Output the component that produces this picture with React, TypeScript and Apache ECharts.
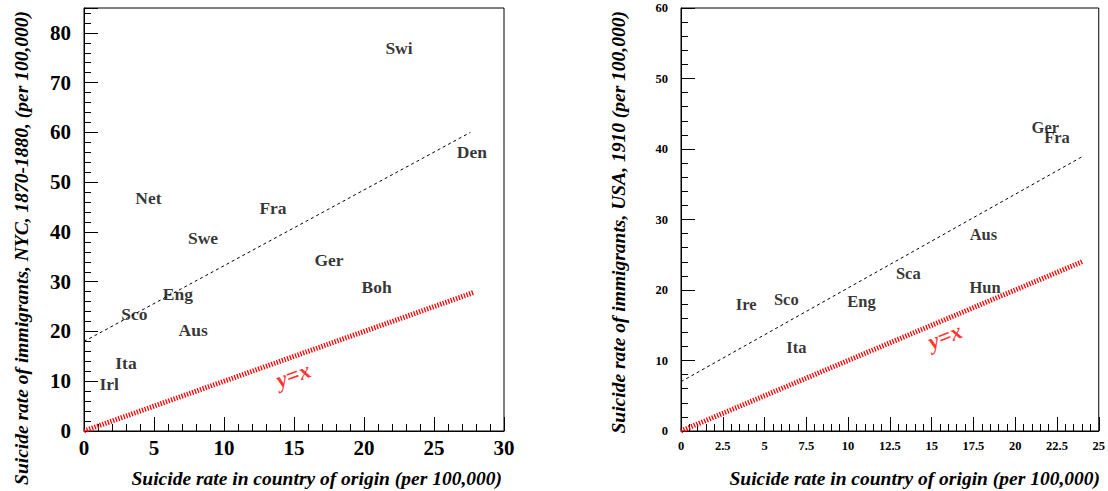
import React, { useEffect, useRef } from "react";
import * as echarts from "echarts";

// Left panel: NYC 1870-1880
const leftNames = ["Swi", "Den", "Net", "Fra", "Swe", "Ger", "Boh", "Eng", "Sco", "Aus", "Ita", "Irl"];
const leftX = [22.5, 27.7, 4.6, 13.5, 8.5, 17.5, 20.9, 6.7, 3.6, 7.8, 3.0, 1.8];
const leftY = [76.9, 56.1, 46.9, 44.9, 38.8, 34.3, 29.0, 27.5, 23.6, 20.3, 13.6, 9.4];
const leftFit = [[0, 18], [27.6, 60]];
const leftIdentity = [[0, 0], [27.8, 27.8]];
const leftIdentityLabel = [14.95, 11.2];

// Right panel: USA 1910
const rightNames = ["Ger", "Fra", "Aus", "Sca", "Hun", "Ire", "Sco", "Eng", "Ita"];
const rightX = [21.8, 22.5, 18.1, 13.6, 18.2, 3.9, 6.3, 10.8, 6.9];
const rightY = [43.1, 41.7, 27.9, 22.3, 20.3, 17.9, 18.6, 18.4, 11.8];
const rightFit = [[0, 7.0], [24.0, 38.9]];
const rightIdentity = [[0, 0], [24, 24]];
const rightIdentityLabel = [15.8, 13.4];

const xTitle = "Suicide rate in country of origin (per 100,000)";
const leftYTitle = "Suicide rate of immigrants, NYC, 1870-1880, (per 100,000)";
const rightYTitle = "Suicide rate of immigrants, USA, 1910 (per 100,000)";

const SERIF = '"Liberation Serif", "Times New Roman", serif';

export default function App() {
  const ref = useRef<HTMLDivElement>(null);
  useEffect(() => {
    if (!ref.current) return;
    const chart = echarts.init(ref.current, undefined, { renderer: "svg" });

    const axisCommon = (labelSize: number, labelMargin: number) => ({
      type: "value",
      axisLine: { show: true, onZero: false, lineStyle: { color: "#000", width: 1 } },
      axisTick: { show: true, inside: true, length: 14, lineStyle: { color: "#000", width: 1 } },
      minorTick: { show: true, splitNumber: 5, length: 7, lineStyle: { color: "#000", width: 1 } },
      splitLine: { show: false },
      axisLabel: {
        color: "#000",
        fontFamily: SERIF,
        fontWeight: "bold",
        fontSize: labelSize,
        margin: labelMargin,
        showMaxLabel: true,
      },
    });

    const labelSeries = (names: string[], xs: number[], ys: number[], idx: number, size: number) => ({
      type: "scatter",
      xAxisIndex: idx,
      yAxisIndex: idx,
      symbolSize: 0,
      data: names.map((n, i) => ({ name: n, value: [xs[i], ys[i]] })),
      label: {
        show: true,
        position: "inside",
        formatter: "{b}",
        color: "#000",
        fontFamily: SERIF,
        fontWeight: "bold",
        fontSize: size,
      },
      labelLayout: { hideOverlap: false },
      silent: true,
    });

    const fitSeries = (data: number[][], idx: number) => ({
      type: "line",
      xAxisIndex: idx,
      yAxisIndex: idx,
      data,
      showSymbol: false,
      symbol: "none",
      lineStyle: { color: "#000", width: 1, type: [3, 3] },
      silent: true,
    });

    const idSeries = (data: number[][], idx: number) => ({
      type: "line",
      xAxisIndex: idx,
      yAxisIndex: idx,
      data,
      showSymbol: false,
      symbol: "none",
      lineStyle: { color: "#ff0000", width: 5, type: [1.3, 1.5] },
      silent: true,
    });

    const idLabel = (pos: number[], idx: number, rot: number) => ({
      type: "scatter",
      xAxisIndex: idx,
      yAxisIndex: idx,
      symbolSize: 0,
      data: [{ name: "y=x", value: pos }],
      label: {
        show: true,
        position: "inside",
        formatter: "{b}",
        color: "#ff0000",
        fontFamily: SERIF,
        fontWeight: "bold",
        fontStyle: "italic",
        fontSize: 23,
        rotate: rot,
      },
      silent: true,
    });

    const titleFont = `italic bold 19.5px ${SERIF}`;

    chart.setOption({
      animation: false,
      backgroundColor: "#fff",
      grid: [
        { left: 84, top: 8, width: 420, height: 423, show: true, borderColor: "#000", borderWidth: 1, backgroundColor: "transparent" },
        { left: 681, top: 8, width: 421, height: 423, show: true, borderColor: "#000", borderWidth: 1, backgroundColor: "transparent" },
      ],
      xAxis: [
        { ...axisCommon(21, 6), gridIndex: 0, min: 0, max: 30, interval: 5 },
        { ...axisCommon(12.5, 8), gridIndex: 1, min: 0, max: 25, interval: 2.5 },
      ],
      yAxis: [
        {
          ...axisCommon(21, 13),
          gridIndex: 0,
          min: 0,
          max: 85,
          interval: 10,
          axisLabel: { ...axisCommon(21, 13).axisLabel, showMaxLabel: false },
        },
        { ...axisCommon(12.5, 13), gridIndex: 1, min: 0, max: 60, interval: 10 },
      ],
      series: [
        fitSeries(leftFit, 0),
        idSeries(leftIdentity, 0),
        labelSeries(leftNames, leftX, leftY, 0, 17.5),
        idLabel(leftIdentityLabel, 0, 20),
        fitSeries(rightFit, 1),
        idSeries(rightIdentity, 1),
        labelSeries(rightNames, rightX, rightY, 1, 16.5),
        idLabel(rightIdentityLabel, 1, 22),
      ],
      graphic: [
        { type: "text", x: 21, y: 11, rotation: Math.PI / 2, style: { text: leftYTitle, font: titleFont, align: "right", verticalAlign: "middle", fill: "#000" } },
        { type: "text", x: 502, y: 478, style: { text: xTitle, font: titleFont, align: "right", verticalAlign: "middle", fill: "#000" } },
        { type: "text", x: 618, y: 11, rotation: Math.PI / 2, style: { text: rightYTitle, font: titleFont, align: "right", verticalAlign: "middle", fill: "#000" } },
        { type: "text", x: 1100, y: 478, style: { text: xTitle, font: titleFont, align: "right", verticalAlign: "middle", fill: "#000" } },
      ],
    });
    return () => chart.dispose();
  }, []);
  return <div ref={ref} style={{ position: "fixed", left: 0, top: 0, width: 1108, height: 491, background: "#fff" }} />;
}
